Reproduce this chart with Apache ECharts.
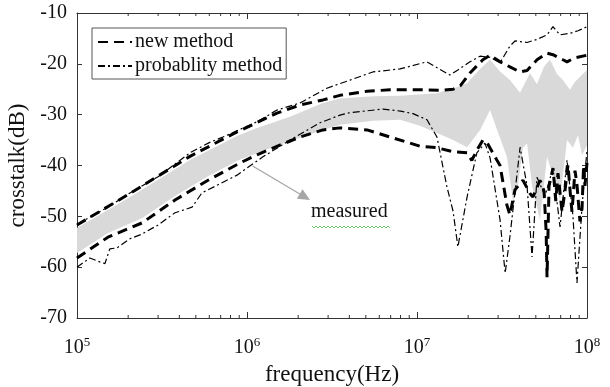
<!DOCTYPE html>
<html>
<head>
<meta charset="utf-8">
<script src="https://cdn.jsdelivr.net/npm/echarts@6/dist/echarts.min.js"></script>
<style>
  html, body { margin: 0; padding: 0; background: #fff; }
  #chart { width: 610px; height: 387px; }
</style>
</head>
<body>
<div id="chart"></div>
<script>
// frequency (Hz) / crosstalk (dB)
const newUpperFreq = [1e5, 2.05e5, 4.62e5, 8.73e5, 1.5e6, 2.05e6, 2.8e6, 3.52e6, 5.08e6, 6.94e6, 1.04e7, 1.37e7, 1.63e7, 1.8e7, 2.05e7, 2.44e7, 2.69e7, 3.08e7, 3.52e7, 4.04e7, 4.44e7, 5.08e7, 5.82e7, 6.31e7, 7.22e7, 7.63e7, 8.5e7, 1e8]
const newUpper = [-51.7, -45.5, -38.2, -33.4, -29.7, -28.1, -27.1, -26.2, -25.4, -25.1, -25.1, -25.2, -25, -24.3, -21.8, -19.2, -18.3, -19.6, -20.6, -21.6, -21.3, -19.2, -17.9, -18.2, -19.2, -19.6, -18.8, -18.3]

const newLowerFreq = [1e5, 1.52e5, 2.41e5, 3.77e5, 5.9e5, 9.09e5, 1.145e6, 1.56e6, 2.05e6, 2.8e6, 3.52e6, 5.08e6, 6.94e6, 1.04e7, 1.31e7, 1.63e7, 1.97e7, 2.1e7, 2.25e7, 2.44e7, 2.58e7, 2.96e7, 3.08e7, 3.38e7, 3.52e7, 3.77e7, 4.2e7, 4.62e7, 4.81e7, 5.29e7, 5.59e7, 5.75e7, 5.82e7, 5.98e7, 6.31e7, 6.55e7, 6.75e7, 7.13e7, 7.42e7, 7.73e7, 8.0e7, 8.16e7, 8.5e7, 8.73e7, 9.09e7, 9.35e7, 9.55e7, 9.73e7, 1e8]
const newLower = [-58.2, -54.1, -51.3, -46.8, -42.9, -39.5, -37.9, -36, -34.4, -33, -32.6, -33, -34.4, -36.2, -36.5, -37.3, -37.5, -39, -37, -35, -35.5, -39, -40, -47.8, -49.7, -44.8, -42.9, -45.5, -46.2, -42.9, -45, -53, -62, -44, -40.5, -47, -41.5, -49.1, -45, -39.9, -46, -49.1, -41, -43.8, -51, -48.4, -40, -44, -39.5]

const probUpperFreq = [1e5, 1.5e5, 2.05e5, 3e5, 4.62e5, 6e5, 7.22e5, 1.145e6, 1.5e6, 2.05e6, 2.95e6, 4.04e6, 5.5e6, 7.94e6, 1.145e7, 1.56e7, 1.74e7, 2.05e7, 2.35e7, 2.69e7, 3.08e7, 3.52e7, 3.77e7, 4.44e7, 5.08e7, 5.82e7, 6.31e7, 6.94e7, 7.94e7, 8.85e7, 1e8]
const probUpper = [-51.6, -48.3, -45.4, -42.2, -37.5, -35.5, -34.4, -31.4, -29.1, -27.7, -24.8, -23.2, -21.6, -21, -19.6, -22.2, -21.2, -19.6, -18.5, -18.7, -19.8, -16.5, -15.5, -15.8, -15.2, -14.3, -12.7, -14.3, -14, -13.5, -12.7]

const probLowerFreq = [1e5, 1.19e5, 1.37e5, 1.46e5, 1.56e5, 1.72e5, 2.05e5, 2.41e5, 3e5, 3.77e5, 4.75e5, 5.43e5, 6.75e5, 8.73e5, 1.24e6, 1.79e6, 2.69e6, 3.52e6, 4.04e6, 6.31e6, 8e6, 9.47e6, 1.145e7, 1.31e7, 1.5e7, 1.63e7, 1.74e7, 1.97e7, 2.25e7, 2.51e7, 2.69e7, 3.08e7, 3.3e7, 3.52e7, 4.04e7, 4.44e7, 4.75e7, 5.08e7, 5.66e7, 6.31e7, 6.94e7, 7.63e7, 8.27e7, 8.73e7, 9.35e7, 1e8]
const probLower = [-60, -58.2, -59, -59.3, -56.4, -56.2, -54.4, -53.5, -51.7, -49.3, -48.2, -45.4, -43.8, -41.9, -38.3, -35, -31.6, -30.1, -29.6, -28.9, -29.3, -29.8, -31, -34.4, -44.2, -49, -56, -46.2, -37.5, -35.6, -38.5, -50.7, -61.2, -54, -36.4, -44, -58, -42.3, -46, -40.5, -52.1, -38.9, -50, -63.1, -48, -37]

const bandUpperFreq = [1e5, 2.05e5, 4.62e5, 8.73e5, 1.145e6, 1.79e6, 2.8e6, 3.52e6, 5.51e6, 7.94e6, 1.31e7, 1.74e7, 1.97e7, 2.35e7, 2.69e7, 3.08e7, 3.52e7, 4.04e7, 4.62e7, 5.08e7, 5.59e7, 6.06e7, 6.66e7, 7.22e7, 7.94e7, 8.5e7, 1e8]
const bandUpper = [-52.3, -46.2, -38.9, -34.2, -32.6, -30.4, -27.7, -26.8, -26.4, -26.3, -25.8, -24.5, -23.8, -21, -19.2, -21.5, -23.2, -25.7, -21.8, -24, -20.5, -19.2, -22, -23.2, -25.1, -23.5, -21.2]
const bandLowerFreq = [1e5, 1.52e5, 2.41e5, 3.77e5, 5.9e5, 9.09e5, 1.145e6, 1.79e6, 2.8e6, 3.52e6, 5.51e6, 7.94e6, 1.04e7, 1.31e7, 1.63e7, 1.97e7, 2.35e7, 2.69e7, 2.96e7, 3.38e7, 3.67e7, 3.92e7, 4.2e7, 4.44e7, 4.75e7, 5.29e7, 5.82e7, 6.31e7, 6.94e7, 7.63e7, 8.27e7, 8.85e7, 9.35e7, 1e8]
const bandLower = [-57.2, -53.3, -50.4, -46, -42.1, -38.8, -37.6, -35.2, -33, -32, -31.2, -31, -32.2, -33.6, -35, -36.4, -33, -29.1, -33, -38.3, -47, -44, -36.5, -35.6, -44, -50.7, -38.3, -42, -46.8, -35, -36.5, -34, -38, -36]

// log axis minor ticks (2..9 per decade)
const minorTicks = [2e5, 3e5, 4e5, 5e5, 6e5, 7e5, 8e5, 9e5, 2e6, 3e6, 4e6, 5e6, 6e6, 7e6, 8e6, 9e6, 2e7, 3e7, 4e7, 5e7, 6e7, 7e7, 8e7, 9e7]
const yTicks = [-70, -60, -50, -40, -30, -20, -10]

const FONT = 'Liberation Serif'
const zip = (xs, ys) => xs.map((x, i) => [x, ys[i]])

const chart = echarts.init(document.getElementById('chart'))

const xAxisBase = {
  type: 'log', logBase: 10, min: 1e5, max: 1e8,
  axisLine: {lineStyle: {color: '#333', width: 1}},
  axisTick: {inside: true, length: 6, lineStyle: {color: '#333'}},
  splitLine: {show: false}
}
const yAxisBase = {
  type: 'value', min: yTicks[0], max: yTicks[yTicks.length - 1], interval: 10,
  axisLine: {show: true, lineStyle: {color: '#333', width: 1}},
  axisTick: {show: true, inside: true, length: 5, lineStyle: {color: '#333'}},
  splitLine: {show: false}
}

const option = {
  animation: false,
  backgroundColor: '#fff',
  grid: {left: 77, right: 23, top: 13, bottom: 69, outerBoundsMode: 'none', containLabel: false},
  legend: {
    left: 92, top: 28, orient: 'vertical',
    backgroundColor: '#fff', borderColor: '#555', borderWidth: 1,
    padding: [4, 4, 3, 5], itemGap: 4, itemWidth: 34, itemHeight: 14,
    itemStyle: {color: 'rgba(0,0,0,0)', borderColor: 'rgba(0,0,0,0)', borderWidth: 0},
    textStyle: {fontFamily: FONT, fontSize: 20, color: '#111', padding: [0, 0, 0, -2]},
    data: ['new method', 'probablity method']
  },
  xAxis: [
    {
      ...xAxisBase, position: 'bottom',
      name: 'frequency(Hz)', nameLocation: 'middle', nameGap: 45,
      nameTextStyle: {fontFamily: FONT, fontSize: 23, color: '#111'},
      axisLabel: {
        margin: 18, fontFamily: FONT, fontSize: 20, color: '#111',
        formatter: v => '10{sup|' + Math.round(Math.log10(v)) + '}',
        rich: {sup: {fontFamily: FONT, fontSize: 13, color: '#111', verticalAlign: 'top', padding: [0, 0, 10, 0]}}
      }
    },
    {...xAxisBase, position: 'top', axisLabel: {show: false}}
  ],
  yAxis: [
    {
      ...yAxisBase, position: 'left',
      name: 'crosstalk(dB)', nameLocation: 'middle', nameGap: 33,
      nameTextStyle: {fontFamily: FONT, fontSize: 23, color: '#111'},
      axisLabel: {margin: 10, fontFamily: FONT, fontSize: 20, color: '#111'}
    },
    {...yAxisBase, position: 'right', axisLabel: {show: false}}
  ],
  series: [
    {
      name: 'measured', type: 'custom', z: 1, silent: true, clip: true,
      data: [[bandUpperFreq[0], bandUpper[0]]],
      renderItem: (params, api) => {
        const pts = zip(bandUpperFreq, bandUpper).map(p => api.coord(p))
          .concat(zip(bandLowerFreq, bandLower).reverse().map(p => api.coord(p)))
        return {type: 'polygon', shape: {points: pts}, style: {fill: '#d9d9d9'}}
      }
    },
    {
      name: 'ticks', type: 'custom', z: 5, silent: true,
      data: minorTicks.map(f => [f, yTicks[0]]),
      renderItem: (params, api) => {
        const f = api.value(0)
        const b = api.coord([f, yTicks[0]])
        const t = api.coord([f, yTicks[yTicks.length - 1]])
        const s = {stroke: '#333', lineWidth: 1}
        return {type: 'group', children: [
          {type: 'line', shape: {x1: b[0], y1: b[1], x2: b[0], y2: b[1] - 3}, style: s},
          {type: 'line', shape: {x1: t[0], y1: t[1], x2: t[0], y2: t[1] + 3}, style: s}
        ]}
      }
    },
    {
      name: 'new method', type: 'line', symbol: 'none', z: 3,
      data: zip(newUpperFreq, newUpper),
      lineStyle: {color: '#000', width: 3, type: [10, 6]}, itemStyle: {color: '#000'}
    },
    {
      name: 'new method', type: 'line', symbol: 'none', z: 3,
      data: zip(newLowerFreq, newLower),
      lineStyle: {color: '#000', width: 3, type: [10, 6]}, itemStyle: {color: '#000'}
    },
    {
      name: 'probablity method', type: 'line', symbol: 'none', z: 4,
      data: zip(probUpperFreq, probUpper),
      lineStyle: {color: '#000', width: 1.2, type: [7, 3, 2, 3]}, itemStyle: {color: '#000'}
    },
    {
      name: 'probablity method', type: 'line', symbol: 'none', z: 4,
      data: zip(probLowerFreq, probLower),
      lineStyle: {color: '#000', width: 1.2, type: [7, 3, 2, 3]}, itemStyle: {color: '#000'},
      markLine: {
        silent: true, symbol: ['none', 'triangle'], symbolSize: [11, 12],
        lineStyle: {color: '#a6a6a6', width: 1.3, type: 'solid'}, label: {show: false},
        data: [[{coord: [1.08e6, -40.1]}, {coord: [2.19e6, -46.2]}]]
      }
    }
  ],
  graphic: [
    {type: 'text', left: 311, top: 202, z: 10,
      style: {text: 'measured', fontFamily: FONT, fontSize: 20, fill: '#111'}},
    {type: 'polyline', z: 10, silent: true,
      shape: {points: [[312, 226], [314, 228], [316, 226], [318, 228], [320, 226], [322, 228], [324, 226], [326, 228], [328, 226], [330, 228], [332, 226], [334, 228], [336, 226], [338, 228], [340, 226], [342, 228], [344, 226], [346, 228], [348, 226], [350, 228], [352, 226], [354, 228], [356, 226], [358, 228], [360, 226], [362, 228], [364, 226], [366, 228], [368, 226], [370, 228], [372, 226], [374, 228], [376, 226], [378, 228], [380, 226], [382, 228], [384, 226], [386, 228], [388, 226], [390, 228]]},
      style: {stroke: '#4caf50', lineWidth: 0.8, fill: null}}
  ]
}

chart.setOption(option)
</script>
</body>
</html>
